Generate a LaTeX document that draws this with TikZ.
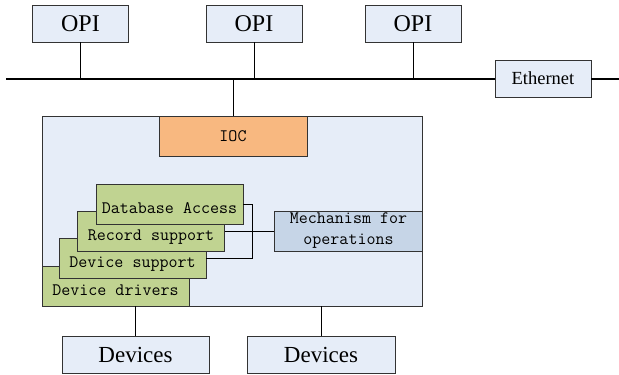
\documentclass[tikz,border=0pt]{standalone}
\usepackage{fontspec}
\setmainfont{Liberation Serif}
\usetikzlibrary{positioning}

\definecolor{paleblue}{RGB}{230,237,248}
\definecolor{iocorange}{RGB}{248,184,128}
\definecolor{layergreen}{RGB}{192,211,145}
\definecolor{mechblue}{RGB}{198,213,231}

\tikzset{
  box/.style={draw=black!80, line width=0.8pt, fill=paleblue, inner sep=0pt},
  layer/.style={box, fill=layergreen, minimum width=147pt, minimum height=40pt,
    text height=18.5pt, text depth=0pt, font=\ttfamily\fontsize{17.5}{18}\selectfont},
  wire/.style={line width=0.8pt},
}

\begin{document}
\begin{tikzpicture}[x=1pt, y=-1pt]
    \useasboundingbox (0, 0) rectangle (619, 375);
    \node[box, minimum width=96pt, minimum height=37pt, font=\fontsize{24}{24}\selectfont]
	(opiA) at (80.5, 23.5) {OPI};
    \node[box, minimum width=96pt, minimum height=37pt, font=\fontsize{24}{24}\selectfont]
	(opiB) at (254, 23.5) {OPI};
    \node[box, minimum width=96pt, minimum height=37pt, font=\fontsize{24}{24}\selectfont]
	(opiC) at (413, 23.5) {OPI};
    \node[box, minimum width=96pt, minimum height=37pt, font=\fontsize{18.5}{18.5}\selectfont]
	(eth) at (543, 78.5) {Ethernet};
    \coordinate (busL) at (6, 78.5);
    \coordinate (busR) at (619, 78.5);
    \draw[line width=2pt] (busL) -- (eth.west);
    \draw[line width=2pt] (eth.east) -- (busR);
    \draw[wire] (opiA.south) -- (opiA.south |- busL);
    \draw[wire] (opiB.south) -- (opiB.south |- busL);
    \draw[wire] (opiC.south) -- (opiC.south |- busL);

    \node[box, minimum width=380pt, minimum height=190pt] (iocbox) at (232, 211) {};
    \node[box, fill=iocorange, minimum width=148pt, minimum height=40pt,
	font=\ttfamily\fontsize{17.5}{18}\selectfont] (ioc) at (233, 136) {IOC};
    \draw[wire] (ioc.north) -- (ioc.north |- busL);

    \node[layer] (drv) at (115.5, 286.5) {Device drivers};
    \node[layer] (dsup) at (132.5, 258.5) {Device support};
    \node[layer] (rec) at (151, 231) {Record support};
    \node[layer] (dba) at (169.5, 204) {Database Access};
    \node[box, fill=mechblue, minimum width=148pt, minimum height=40pt, align=center,
	font=\ttfamily\fontsize{17.5}{21}\selectfont] (mech) at (348.5, 231)
	{Mechanism for\\operations};
    \draw[wire] (dba.east) -- ++(9, 0) |- (dsup.east);
    \draw[wire] (rec.east) -- (mech.west);

    \node[box, minimum width=147pt, minimum height=37pt, font=\fontsize{23}{23}\selectfont]
	(devA) at (135.5, 354.5) {Devices};
    \node[box, minimum width=148pt, minimum height=37pt, font=\fontsize{23}{23}\selectfont]
	(devB) at (321, 354.5) {Devices};
    \draw[wire] (devA.north) -- (devA.north |- iocbox.south);
    \draw[wire] (devB.north) -- (devB.north |- iocbox.south);
\end{tikzpicture}
\end{document}
